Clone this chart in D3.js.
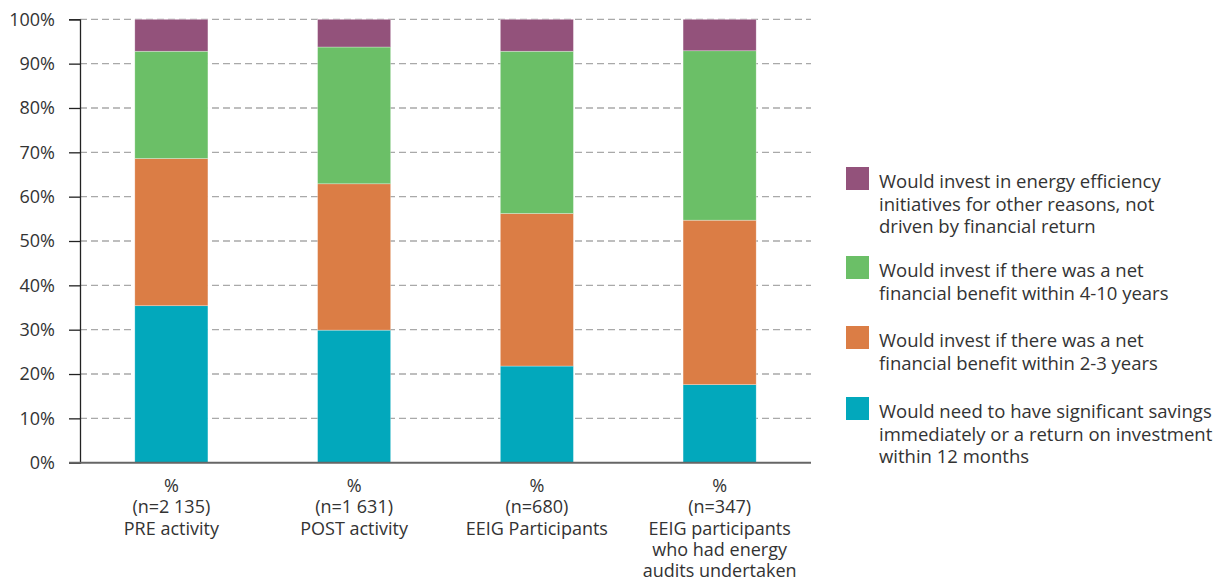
<!DOCTYPE html>
<html>
<head>
<meta charset="utf-8">
<script src="https://cdn.jsdelivr.net/npm/d3@7"></script>
<style>
  body { margin: 0; background: #fff; }
  text { font-family: "Open Sans", sans-serif; fill: #333; }
</style>
</head>
<body>
<svg id="chart" width="1230" height="581"></svg>
<script>
// categories (x labels, one line per entry)
var categories = [
  ["%", "(n=2 135)", "PRE activity"],
  ["%", "(n=1 631)", "POST activity"],
  ["%", "(n=680)", "EEIG Participants"],
  ["%", "(n=347)", "EEIG participants", "who had energy", "audits undertaken"]
];

// series, bottom to top (percent)
var within12 = [35.4, 29.9, 21.8, 17.6];
var within2to3 = [33.2, 33.0, 34.4, 37.1];
var within4to10 = [24.2, 30.85, 36.6, 38.2];
var otherReasons = [7.2, 6.25, 7.2, 7.1];

var seriesNames = [
  ["Would need to have significant savings", "immediately or a return on investment", "within 12 months"],
  ["Would invest if there was a net", "financial benefit within 2-3 years"],
  ["Would invest if there was a net", "financial benefit within 4-10 years"],
  ["Would invest in energy efficiency", "initiatives for other reasons, not", "driven by financial return"]
];
var colors = ["#02a8bc", "#db7d45", "#6bbf67", "#93527b"];
var yTicks = [0, 10, 20, 30, 40, 50, 60, 70, 80, 90, 100];

var svg = d3.select("#chart");
var plotLeft = 80, plotRight = 811, plotTop = 19.3, plotBottom = 462.7;

var rows = categories.map(function(c, i) {
  return { i: i, s0: within12[i], s1: within2to3[i], s2: within4to10[i], s3: otherReasons[i] };
});
var stack = d3.stack().keys(["s0", "s1", "s2", "s3"])(rows);

var x = d3.scaleBand().domain(d3.range(categories.length))
  .range([plotLeft, plotRight]).paddingInner(0.6).paddingOuter(0.3);
var y = d3.scaleLinear().domain([0, 100]).range([plotBottom, plotTop]);

// gridlines
svg.append("g")
  .selectAll("line")
  .data(yTicks.filter(function(d) { return d > 0; }))
  .enter().append("line")
    .attr("x1", plotLeft).attr("x2", plotRight)
    .attr("y1", function(d) { return y(d); })
    .attr("y2", function(d) { return y(d); })
    .attr("stroke", "#a9a9a9")
    .attr("stroke-width", 1.3)
    .attr("stroke-dasharray", "7,4");

// bars
svg.append("g")
  .selectAll("g")
  .data(stack)
  .enter().append("g")
    .attr("fill", function(d, k) { return colors[k]; })
  .selectAll("rect")
  .data(function(d) { return d; })
  .enter().append("rect")
    .attr("x", function(d, i) { return x(i); })
    .attr("width", x.bandwidth())
    .attr("y", function(d) { return y(d[1]); })
    .attr("height", function(d) { return y(d[0]) - y(d[1]); })
    .attr("stroke", "#fff")
    .attr("stroke-opacity", 0.5)
    .attr("stroke-width", 0.6);

// y axis
var yAxis = svg.append("g")
  .attr("transform", "translate(" + plotLeft + ",0)")
  .call(d3.axisLeft(y).tickValues(yTicks).tickSize(11).tickPadding(14)
    .tickFormat(function(d) { return d + "%"; }));
yAxis.select(".domain").attr("stroke", "#222").attr("stroke-width", 1.3);
yAxis.selectAll(".tick line").attr("stroke", "#222").attr("stroke-width", 1.3);
yAxis.selectAll(".tick text")
  .style("font-family", "'Open Sans', sans-serif")
  .style("font-size", "18px")
  .attr("fill", "#333");

// baseline
svg.append("line")
  .attr("x1", plotLeft - 11).attr("x2", plotRight)
  .attr("y1", y(0)).attr("y2", y(0))
  .attr("stroke", "#666").attr("stroke-width", 2);

// x labels
svg.append("g")
  .selectAll("text")
  .data(categories)
  .enter().append("text")
    .attr("text-anchor", "middle")
    .style("font-size", "18px")
    .each(function(lines, i) {
      d3.select(this).selectAll("tspan")
        .data(lines)
        .enter().append("tspan")
          .attr("x", x(i) + x.bandwidth() / 2)
          .attr("y", function(d, j) { return 492 + j * 21.3; })
          .text(function(d) { return d; });
    });

// legend, top entry first
var legendTop = [167, 256, 326, 397];
var legend = svg.append("g")
  .selectAll("g")
  .data(seriesNames.slice().reverse())
  .enter().append("g")
    .attr("transform", function(d, k) { return "translate(846," + legendTop[k] + ")"; });

legend.append("rect")
  .attr("width", 23).attr("height", 23)
  .attr("fill", function(d, k) { return colors[3 - k]; });

legend.append("text")
  .style("font-size", "18.5px")
  .each(function(lines) {
    d3.select(this).selectAll("tspan")
      .data(lines)
      .enter().append("tspan")
        .attr("x", 33)
        .attr("y", function(d, j) { return 21 + j * 22.5; })
        .text(function(d) { return d; });
  });
</script>
</body>
</html>
